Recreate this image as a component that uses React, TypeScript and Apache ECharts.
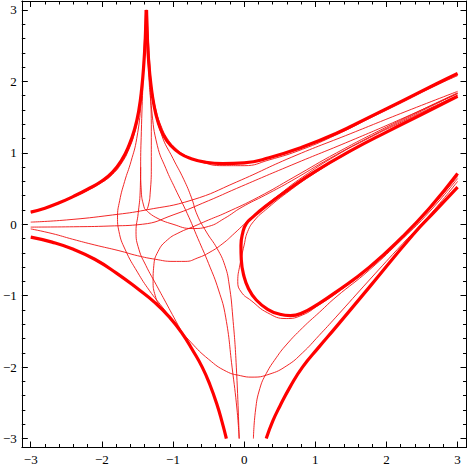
import React, { useEffect, useRef } from "react";
import * as echarts from "echarts";

// ---- tick labels ----
const majorTicks = [-3, -2, -1, 0, 1, 2, 3];
const minorTicks: number[] = [];
for (let i = -15; i <= 15; i++) if (i % 5 !== 0) minorTicks.push(i / 5);

// ---- thick curves ----
const thickUpperLeft = [[-3, 0.17], [-2.8, 0.225], [-2.6, 0.3], [-2.4, 0.39], [-2.2, 0.49], [-2.0, 0.605], [-1.85, 0.73], [-1.72, 0.9], [-1.62, 1.1], [-1.54, 1.33], [-1.48, 1.6], [-1.44, 1.9], [-1.41, 2.25], [-1.39, 2.6], [-1.378, 3.0]];
const thickUpperRight = [[-1.372, 3.0], [-1.36, 2.6], [-1.34, 2.25], [-1.31, 1.95], [-1.27, 1.68], [-1.21, 1.43], [-1.13, 1.24], [-1.03, 1.1], [-0.9, 0.99], [-0.75, 0.92], [-0.55, 0.87], [-0.3, 0.85], [0, 0.86], [0.35, 0.93], [0.82, 1.08], [1.29, 1.27], [1.76, 1.5], [2.23, 1.73], [2.69, 1.96], [3.0, 2.11]];
const thickLowerLeft = [[-3, -0.18], [-2.7, -0.25], [-2.4, -0.35], [-2.1, -0.49], [-1.8, -0.68], [-1.5, -0.9], [-1.25, -1.1], [-1.05, -1.3], [-0.87, -1.53], [-0.72, -1.77], [-0.59, -2.0], [-0.48, -2.25], [-0.38, -2.53], [-0.31, -2.77], [-0.25, -3.0]];
const thickHook = [[3.0, 1.79], [2.5, 1.54], [2.0, 1.29], [1.5, 1.03], [1.0, 0.74], [0.6, 0.47], [0.3, 0.25], [0.12, 0.1], [0.03, 0.01], [-0.02, -0.12], [-0.045, -0.3], [-0.04, -0.5], [-0.01, -0.7], [0.06, -0.9], [0.17, -1.06], [0.33, -1.19], [0.5, -1.26], [0.65, -1.28], [0.82, -1.24], [1.05, -1.11], [1.29, -0.95], [1.76, -0.6], [2.23, -0.17], [2.6, 0.22], [3.0, 0.71]];
const thickLowerRight = [[0.31, -3.0], [0.4, -2.76], [0.5, -2.55], [0.65, -2.27], [0.82, -2.0], [1.05, -1.72], [1.29, -1.44], [1.76, -0.88], [2.37, -0.15], [2.7, 0.2], [3.0, 0.52]];

// ---- thin curves ----
const thinUpperLeft = [[-3, 0.17], [-2.8, 0.222], [-2.6, 0.295], [-2.4, 0.38], [-2.2, 0.475], [-2.0, 0.585], [-1.85, 0.7], [-1.72, 0.86], [-1.62, 1.05], [-1.54, 1.28], [-1.48, 1.55], [-1.44, 1.88], [-1.41, 2.25], [-1.39, 2.6], [-1.38, 3.0]];
const thinUpperRight = [[-1.37, 3.0], [-1.355, 2.55], [-1.33, 2.15], [-1.29, 1.85], [-1.24, 1.6], [-1.17, 1.38], [-1.08, 1.2], [-0.96, 1.06], [-0.82, 0.96], [-0.6, 0.87], [-0.3, 0.82], [0, 0.82], [0.35, 0.9], [0.82, 1.05], [1.29, 1.25], [1.76, 1.48], [2.23, 1.71], [2.69, 1.94], [3.0, 2.08]];
const thinLoop = [[-1.38, 3.0], [-1.4, 2.5], [-1.425, 1.9], [-1.445, 1.3], [-1.455, 0.8], [-1.445, 0.45], [-1.415, 0.27], [-1.38, 0.2], [-1.345, 0.27], [-1.32, 0.45], [-1.305, 0.8], [-1.305, 1.3], [-1.32, 1.9], [-1.35, 2.5], [-1.37, 3.0]];
const thinLoopDown = [[-1.455, 0.8], [-1.462, 0.45], [-1.49, 0.15], [-1.52, -0.1], [-1.48, -0.35], [-1.38, -0.58], [-1.24, -0.84], [-1.12, -1.06], [-0.99, -1.3], [-0.87, -1.52]];
const thinLeftDown = [[-1.385, 3.0], [-1.41, 2.4], [-1.45, 1.7], [-1.51, 1.2], [-1.59, 0.88], [-1.68, 0.6], [-1.75, 0.33], [-1.78, 0.1], [-1.76, -0.1], [-1.67, -0.36], [-1.5, -0.67], [-1.33, -0.93], [-1.15, -1.16], [-0.98, -1.38], [-0.75, -1.65], [-0.5, -1.89], [-0.25, -2.06], [-0.05, -2.12], [0.11, -2.14], [0.35, -2.1], [0.6, -1.98], [0.82, -1.8], [1.05, -1.56], [1.29, -1.3], [1.76, -0.78], [2.23, -0.27], [2.6, 0.12], [3.0, 0.6]];
const thinBottomA = [[-1.36, 3.0], [-1.33, 2.3], [-1.27, 1.7], [-1.16, 1.25], [-1.0, 0.92], [-0.85, 0.63], [-0.74, 0.37], [-0.66, 0.13], [-0.53, -0.11], [-0.38, -0.34], [-0.27, -0.58], [-0.21, -0.85], [-0.16, -1.3], [-0.11, -2.0], [-0.07, -3.0]];
const thinBottomB = [[-1.37, 3.0], [-1.35, 2.3], [-1.3, 1.6], [-1.22, 1.1], [-1.1, 0.78], [-0.97, 0.5], [-0.8, 0.15], [-0.65, -0.2], [-0.5, -0.55], [-0.36, -0.92], [-0.26, -1.3], [-0.17, -2.0], [-0.1, -2.6], [-0.07, -3.0]];
const thinBottomC = [[0.13, -3.0], [0.16, -2.6], [0.22, -2.3], [0.31, -2.09], [0.45, -1.87], [0.59, -1.69], [0.82, -1.45], [1.06, -1.23], [1.29, -1.02], [1.76, -0.64], [2.23, -0.2], [2.6, 0.17], [3.0, 0.64]];
const thinHook = [[3.0, 1.81], [2.5, 1.55], [2.0, 1.29], [1.5, 1.02], [1.0, 0.72], [0.6, 0.44], [0.3, 0.2], [0.15, 0.06], [0.05, -0.1], [0.0, -0.29], [-0.06, -0.57], [-0.09, -0.8], [-0.04, -0.95], [0.1, -1.07], [0.33, -1.24], [0.59, -1.32], [0.82, -1.27], [1.05, -1.13], [1.29, -0.97], [1.76, -0.62], [2.23, -0.18], [2.6, 0.2], [3.0, 0.67]];
const thinDipLow = [[-3, -0.065], [-2.7, -0.13], [-2.41, -0.21], [-2.1, -0.29], [-1.76, -0.37], [-1.5, -0.44], [-1.25, -0.49], [-1.0, -0.52], [-0.83, -0.52], [-0.65, -0.47], [-0.48, -0.39], [-0.3, -0.27], [-0.14, -0.13], [0.0, 0.0], [0.2, 0.18], [0.5, 0.42], [0.82, 0.66], [1.29, 0.96], [1.76, 1.21], [2.23, 1.44], [2.69, 1.66], [3.0, 1.8]];
const thinDipHigh = [[-1.38, 0.2], [-1.25, 0.1], [-1.0, 0.0], [-0.73, -0.06], [-0.5, -0.03], [-0.28, 0.08], [-0.03, 0.24], [0.3, 0.41], [0.67, 0.61], [1.2, 0.92], [1.8, 1.24], [2.4, 1.54], [3.0, 1.83]];
const thinRise = [[-0.6, -1.99], [-0.87, -1.53], [-1.05, -1.3], [-1.18, -1.15], [-1.25, -1.0], [-1.28, -0.8], [-1.27, -0.58], [-1.21, -0.38], [-1.08, -0.22], [-0.9, -0.11], [-0.73, -0.04], [-0.5, 0.06], [-0.26, 0.16], [0.2, 0.38], [0.7, 0.66], [1.3, 1.0], [2.0, 1.36], [3.0, 1.84]];
const thinLeftA = [[-3, 0.03], [-2.5, 0.06], [-1.85, 0.13], [-1.38, 0.2], [-0.73, 0.34], [-0.11, 0.59], [0.67, 0.94], [1.5, 1.27], [2.2, 1.55], [3.0, 1.86]];
const thinLeftB = [[-3, -0.04], [-2.4, -0.035], [-1.9, -0.025], [-1.43, 0.0], [-1.0, 0.13], [-0.5, 0.33], [-0.11, 0.5], [0.67, 0.83], [1.5, 1.17], [2.2, 1.47], [3.0, 1.83]];

const thickCurves = [thickUpperLeft, thickUpperRight, thickLowerLeft, thickHook, thickLowerRight];
const thinCurves = [thinUpperLeft, thinUpperRight, thinLoop, thinLoopDown, thinLeftDown, thinBottomA, thinBottomB, thinBottomC, thinHook, thinDipLow, thinDipHigh, thinRise, thinLeftA, thinLeftB];

const RANGE = 3.125;
const fmt = (v: number) => String(v).replace("-", "\u2212");

export default function App() {
  const ref = useRef<HTMLDivElement>(null);
  useEffect(() => {
    document.body.style.margin = "0";
    const chart = echarts.init(ref.current!, null, { renderer: "svg" });
    const labelStyle = { color: "#000", fontFamily: "'Liberation Serif', 'Times New Roman', serif", fontSize: 13 };
    const mkAxis = (position: string, major: boolean, labels: boolean, line: boolean) => ({
      type: "value",
      position,
      min: -RANGE,
      max: RANGE,
      axisLine: { show: line, onZero: false, lineStyle: { color: "#000", width: 1 } },
      axisTick: {
        show: true,
        inside: true,
        length: major ? 6 : 3.5,
        customValues: major ? majorTicks : minorTicks,
        lineStyle: { color: "#000", width: 1 },
      },
      axisLabel: labels
        ? { show: true, customValues: majorTicks, formatter: fmt, margin: 5, ...labelStyle }
        : { show: false },
      splitLine: { show: false },
    });
    const series: any[] = [];
    thinCurves.forEach((d) =>
      series.push({
        type: "line",
        data: d,
        showSymbol: false,
        smooth: 0.5,
        lineStyle: { color: "#f01010", width: 0.9, join: "round" },
        xAxisIndex: 0,
        yAxisIndex: 0,
      })
    );
    thickCurves.forEach((d) =>
      series.push({
        type: "line",
        data: d,
        showSymbol: false,
        smooth: 0.5,
        lineStyle: { color: "#ff0000", width: 3.2, join: "round" },
        xAxisIndex: 0,
        yAxisIndex: 0,
      })
    );
    chart.setOption({
      animation: false,
      backgroundColor: "#fff",
      grid: { left: 19.5, top: 1, width: 447, height: 446.5, containLabel: false },
      xAxis: [
        mkAxis("bottom", true, true, true),
        mkAxis("bottom", false, false, false),
        mkAxis("top", true, false, true),
        mkAxis("top", false, false, false),
      ],
      yAxis: [
        mkAxis("left", true, true, true),
        mkAxis("left", false, false, false),
        mkAxis("right", true, false, true),
        mkAxis("right", false, false, false),
      ],
      series,
    });
    return () => chart.dispose();
  }, []);
  return <div ref={ref} style={{ width: 468, height: 469 }} />;
}
